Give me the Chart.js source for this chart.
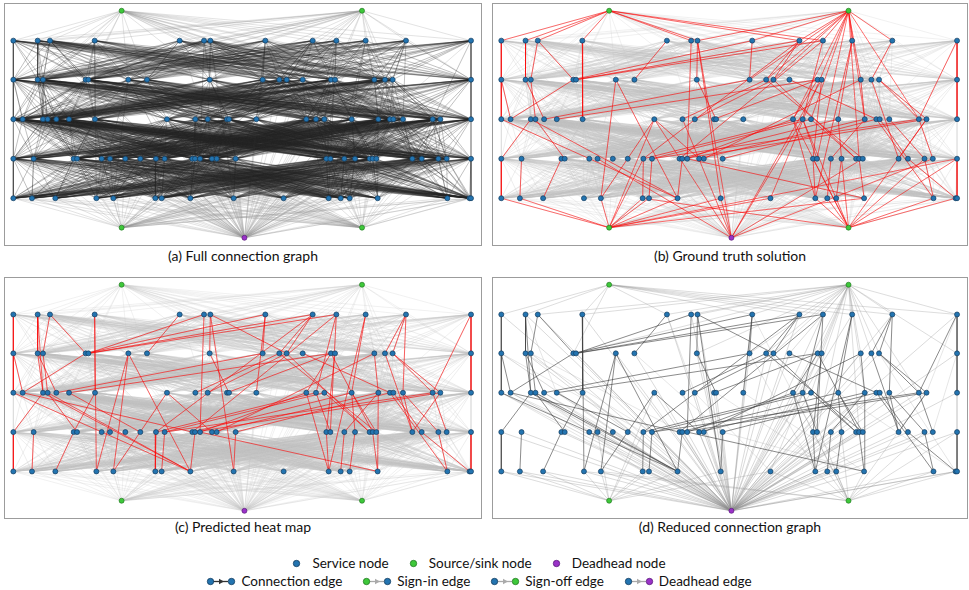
<!DOCTYPE html>
<html>
<head>
<meta charset="utf-8">
<script src="https://cdn.jsdelivr.net/npm/chart.js@4.4.0/dist/chart.umd.min.js"></script>
<style>
  body { margin: 0; width: 969px; height: 590px; background: #fff; position: relative; overflow: hidden;
         font-family: Lato, "Open Sans", sans-serif; color: #111; }
  .panel { position: absolute; border: 1.5px solid #9c9c9c; box-sizing: border-box; }
  .cap { position: absolute; font-size: 14px; text-align: center; width: 478px; line-height: 18px; }
  .lrow { position: absolute; left: 0; width: 958px; display: flex; justify-content: center; align-items: center;
          font-size: 13.5px; line-height: 18px; height: 18px; }
  .lrow span.item { display: flex; align-items: center; margin: 0 10px; }
  .lrow svg { margin-right: 5px; }
</style>
</head>
<body>
<div class="panel" style="left:4px;top:3px;width:478px;height:243px"><canvas id="pa"></canvas></div>
<div class="panel" style="left:492px;top:3px;width:476px;height:243px"><canvas id="pb"></canvas></div>
<div class="panel" style="left:4px;top:277px;width:478px;height:242px"><canvas id="pc"></canvas></div>
<div class="panel" style="left:492px;top:277px;width:476px;height:242px"><canvas id="pd"></canvas></div>
<div class="cap" style="left:4px;top:247px">(a) Full connection graph</div>
<div class="cap" style="left:491px;top:247px">(b) Ground truth solution</div>
<div class="cap" style="left:4px;top:518px">(c) Predicted heat map</div>
<div class="cap" style="left:491px;top:518px">(d) Reduced connection graph</div>
<div class="lrow" id="leg1" style="top:554px"></div>
<div class="lrow" id="leg2" style="top:572px"></div>

<script>
// node layout (x: 0-100 across the panel, y: 0-100 bottom to top)
const rowA = [1.75, 6.86, 9.45, 18.84, 36.69, 41.81, 43.14, 54.69, 64.64, 69.61, 75.77, 84.24, 97.9];
const rowB = [1.75, 6.86, 7.98, 16.95, 17.51, 25.91, 29.83, 43.0, 54.13, 57.63, 59.17, 62.54, 68.49, 69.33, 77.59, 79.83, 81.44, 97.9];
const rowC = [1.75, 3.71, 7.98, 8.96, 10.78, 13.45, 18.91, 34.03, 39.99, 42.58, 46.64, 47.06, 52.8, 63.3, 65.34, 67.09, 72.83, 78.43, 80.88, 81.58, 83.61, 89.85, 91.46, 97.9];
const rowD = [1.75, 6.02, 14.43, 15.13, 20.31, 22.06, 25.28, 28.43, 31.72, 33.54, 39.36, 39.92, 40.97, 43.49, 44.47, 48.46, 67.51, 68.35, 71.29, 73.53, 76.61, 77.24, 78.01, 85.57, 87.54, 91.04, 92.79, 97.9];
const rowE = [1.75, 5.67, 10.57, 19.19, 22.76, 31.58, 32.91, 38.94, 48.04, 58.54, 68.0, 70.52, 72.41, 78.29, 92.93, 97.6, 97.9];
const rowY = [84.8, 68.6, 52.2, 35.8, 19.4];
const terminalX = [24.5, 75.0];   // S1,S2 (sign-in) on top, T1,T2 (sign-off) at bottom
const sourceY = 97.2;
const sinkY = 7.2;
const deadheadX = 50.3;
const deadheadY = 3.0;

// ground truth connection edges (service -> service)
const truthConn = ["A0-B0","B0-C0","C0-E7","D0-E0","A1-B1","B1-C4","A2-B2","A2-B3","B2-C3","C3-D3","D2-E2","B0-C1",
  "C1-B3","A3-C6","D0-C2","D1-E1","C2-E7","C4-B8","C5-B12","B4-A8","B3-A7","B4-A9","B5-E4","B6-A4","B5-E7","C7-E4",
  "C7-D13","A5-D12","A6-B7","A6-E8","D8-E5","D9-E6","D11-E7","D12-C13","D8-C14","D9-C15","C8-B9","C9-B10","C10-B12",
  "D10-C16","D13-C17","D14-B14","D15-C18","A8-D8","A9-D10","A7-B8","A8-B9","A8-B10","B9-D22","B10-D20","B11-C18",
  "B12-C13","B13-D16","A9-C14","A10-C16","A10-E10","A12-B17","B17-C23","D27-E16","A12-C21","A11-B15","B14-C17",
  "B15-D23","B16-C21","B16-C22","C13-E10","C14-D17","C15-D20","C16-D19","C17-D18","C18-E14","C19-D24","C20-D25",
  "C21-D26","C22-D23","D16-E10","D18-E11","D19-E12","D21-E13","D25-E14","D24-E15","D12-E13","C22-D11","C21-D9","B7-C11"];
const truthSignIn = ["S1-A0","S1-A1","S1-A2","S1-A3","S1-A5","S1-A6","S1-A8","S1-A9",
  "S2-A6","S2-A7","S2-A8","S2-A9","S2-A10","S2-A11","S2-B8","S2-B9","S2-B10","S2-B14","S2-C13","S2-C15","S2-C17",
  "S2-C21","S2-D17","S2-D21","S2-E9"];
const truthSignOff = ["E0-T1","E1-T1","E4-T1","E5-T1","E6-T1","E7-T1","E8-T1","D8-T1","C7-T1","E9-T1","E13-T1","D27-T1",
  "E10-T2","E11-T2","E14-T2","E15-T2","D16-T2","D19-T2","D25-T2","D27-T2","C13-T2","C14-T2","C22-T2","E5-T2"];
const truthDeadhead = ["A6-DH","C8-DH","B13-DH","C14-DH","D22-DH","E8-DH","D5-DH","C7-DH","D26-DH"];

// edges the model scores high besides the ground truth ones
const predictedExtra = ["A3-E3","B4-A5","D2-C6","A1-C2","B1-C2","C3-E7","B5-E3","A6-B10","A7-C12","A9-D17","B12-D21",
  "C16-D22","A11-C20","A11-B16","D23-C20","E13-C17","C5-D7","C1-D10","E8-D15"];

// reduced graph: kept sign-in / sign-off edges
const reducedSignIn = ["S1-A0","S1-A1","S1-A3","S1-A4","S1-A7","S1-A8","S1-A9","S1-A10","S1-A11","S1-A12","S1-B3",
  "S2-A2","S2-A3","S2-A4","S2-A5","S2-A6","S2-A7","S2-A8","S2-A9","S2-A10","S2-A11","S2-A12","S2-B4","S2-B7","S2-B8",
  "S2-B9","S2-B10","S2-B11","S2-B12","S2-B13","S2-B14","S2-B15","S2-B16","S2-B17","S2-C13","S2-C15","S2-C17","S2-C21",
  "S2-D17","S2-D21","S2-E9"];
const reducedSignOff = ["E0-T1","E1-T1","E2-T1","E3-T1","E4-T1","E5-T1","E6-T1","E7-T1","E8-T1","E9-T1","D5-T1","D8-T1",
  "C7-T1","E3-T2","E4-T2","E9-T2","E10-T2","E11-T2","E12-T2","E13-T2","E14-T2","E15-T2","D16-T2","D19-T2","D25-T2",
  "D27-T2","C13-T2","C14-T2","C22-T2"];
// light connection edges that survive the reduction
const reducedLight = ["C0-E5","C1-E7","C2-E6","B0-D8","B1-D9","C3-E5","A1-C5","B2-D11","C4-E7","A4-C9","B6-D15","C12-E13",
  "C11-E12","A7-D16","B8-E10","C16-E15","B17-D26","C23-D27","A12-C22","B16-E15","C9-E9","D15-E13"];

const rows = [rowA, rowB, rowC, rowD, rowE];
const rowNames = "ABCDE";

function pos(id) {
  if (id === "S1") return { x: terminalX[0], y: sourceY };
  if (id === "S2") return { x: terminalX[1], y: sourceY };
  if (id === "T1") return { x: terminalX[0], y: sinkY };
  if (id === "T2") return { x: terminalX[1], y: sinkY };
  if (id === "DH") return { x: deadheadX, y: deadheadY };
  const r = rowNames.indexOf(id[0]);
  return { x: rows[r][parseInt(id.slice(1))], y: rowY[r] };
}

const serviceIds = [];
rows.forEach((row, r) => row.forEach((x, i) => serviceIds.push(rowNames[r] + i)));

// full connection graph: every trip links to every trip of the neighbouring row
const fullConn = [];
for (let r = 0; r < 4; r++) {
  rows[r].forEach((a, i) => rows[r + 1].forEach((b, j) => fullConn.push(rowNames[r] + i + "-" + rowNames[r + 1] + j)));
}
truthConn.concat(predictedExtra).forEach(e => fullConn.push(e));
const fullSign = [];
serviceIds.filter(id => id[0] === "A" || id[0] === "B").forEach(id => { fullSign.push("S1-" + id); fullSign.push("S2-" + id); });
serviceIds.filter(id => id[0] === "D" || id[0] === "E").forEach(id => { fullSign.push(id + "-T1"); fullSign.push(id + "-T2"); });
serviceIds.forEach(id => fullSign.push(id + "-DH"));

const predictedConn = truthConn.concat(predictedExtra);
const reducedDeadhead = serviceIds.map(id => id + "-DH");

function segs(edges) {
  const pts = [];
  edges.forEach(e => {
    const [p, q] = e.split("-");
    pts.push(pos(p), pos(q), { x: null, y: null });
  });
  return pts;
}

function edgeSet(edges, color, width, order) {
  return { data: segs(edges), showLine: true, pointRadius: 0, borderColor: color, borderWidth: width,
           spanGaps: false, fill: false, order: order };
}

function nodeSets() {
  return [
    { data: serviceIds.map(pos), pointRadius: 2.5, backgroundColor: "#2374b0", borderColor: "#143c5e", borderWidth: 0.7, order: 0 },
    { data: ["S1", "S2", "T1", "T2"].map(pos), pointRadius: 2.5, backgroundColor: "#3ec83a", borderColor: "#237a22", borderWidth: 0.7, order: 0 },
    { data: [pos("DH")], pointRadius: 2.5, backgroundColor: "#9a32c8", borderColor: "#5a1a7a", borderWidth: 0.7, order: 0 }
  ];
}

function panel(id, layers) {
  new Chart(document.getElementById(id), {
    type: "scatter",
    data: { datasets: layers.concat(nodeSets()) },
    options: {
      responsive: true, maintainAspectRatio: false, animation: false, events: [],
      layout: { padding: 0, autoPadding: false },
      plugins: { legend: { display: false }, tooltip: { enabled: false } },
      scales: {
        x: { type: "linear", min: 0, max: 100, display: false },
        y: { type: "linear", min: 0, max: 100, display: false }
      }
    }
  });
}

panel("pa", [
  edgeSet(fullSign, "rgba(150,150,150,0.45)", 0.6, 3),
  edgeSet(fullConn, "rgba(35,35,35,0.4)", 0.7, 2)
]);
panel("pb", [
  edgeSet(fullSign, "rgba(195,195,195,0.4)", 0.6, 3),
  edgeSet(fullConn, "rgba(190,190,190,0.45)", 0.6, 3),
  edgeSet(truthSignIn.concat(truthSignOff, truthDeadhead), "rgba(255,0,0,0.7)", 0.8, 1),
  edgeSet(truthConn, "rgba(255,0,0,0.75)", 0.8, 1)
]);
panel("pc", [
  edgeSet(fullSign, "rgba(195,195,195,0.4)", 0.6, 3),
  edgeSet(fullConn, "rgba(190,190,190,0.45)", 0.6, 3),
  edgeSet(predictedConn, "rgba(255,0,0,0.75)", 0.8, 1)
]);
panel("pd", [
  edgeSet(reducedSignIn.concat(reducedSignOff), "rgba(150,150,150,0.55)", 0.6, 3),
  edgeSet(reducedDeadhead, "rgba(140,140,140,0.55)", 0.6, 3),
  edgeSet(reducedLight, "rgba(170,170,170,0.5)", 0.6, 3),
  edgeSet(predictedConn, "rgba(60,60,60,0.75)", 0.8, 1)
]);

// legend
function dot(c, s) { return '<svg width="9" height="9"><circle cx="4.5" cy="4.5" r="3.2" fill="' + c + '" stroke="' + s + '" stroke-width="0.8"/></svg>'; }
function arrowIcon(c1, s1, a, c2, s2) {
  return '<svg width="30" height="9"><line x1="7" y1="4.5" x2="22" y2="4.5" stroke="' + a + '" stroke-width="1.3"/>' +
    '<path d="M13,1.8 L18,4.5 L13,7.2 Z" fill="' + a + '"/>' +
    '<circle cx="4.5" cy="4.5" r="3.2" fill="' + c1 + '" stroke="' + s1 + '" stroke-width="0.8"/>' +
    '<circle cx="25.5" cy="4.5" r="3.2" fill="' + c2 + '" stroke="' + s2 + '" stroke-width="0.8"/></svg>';
}
const B = ["#2374b0", "#143c5e"], G = ["#3ec83a", "#237a22"], P = ["#9a32c8", "#5a1a7a"];
const nodeLegend = [["Service node", B], ["Source/sink node", G], ["Deadhead node", P]];
const edgeLegend = [["Connection edge", B, "#333", B], ["Sign-in edge", G, "#aaa", B],
                    ["Sign-off edge", B, "#aaa", G], ["Deadhead edge", B, "#aaa", P]];
document.getElementById("leg1").innerHTML = nodeLegend.map(n =>
  '<span class="item">' + dot(n[1][0], n[1][1]) + '<span style="margin-left:6px">' + n[0] + '</span></span>').join("");
document.getElementById("leg2").innerHTML = edgeLegend.map(n =>
  '<span class="item">' + arrowIcon(n[1][0], n[1][1], n[2], n[3][0], n[3][1]) + '<span>' + n[0] + '</span></span>').join("");
</script>
</body>
</html>
